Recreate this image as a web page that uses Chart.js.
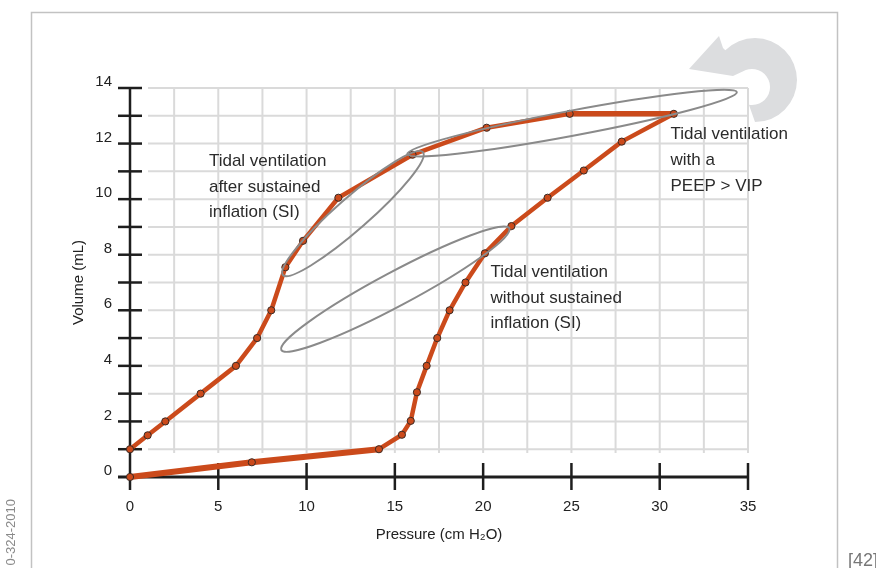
<!DOCTYPE html>
<html>
<head>
<meta charset="utf-8">
<script src="https://cdn.jsdelivr.net/npm/chart.js@4.4.1/dist/chart.umd.min.js"></script>
<style>
  html, body { margin: 0; padding: 0; background: #fff; }
  #wrap { width: 876px; height: 568px; }
</style>
</head>
<body>
<div id="wrap"><canvas id="pv_loop" width="876" height="568"></canvas></div>
<script>
// one closed P-V loop: up the right limb from 0, across the top, back down the left limb
const pressure = [0, 6.9, 14.1, 15.4, 15.9, 16.25, 16.8, 17.4, 18.1, 19.0, 20.1, 21.6, 23.65, 25.7, 27.85, 30.8,
                  24.9, 20.2, 16.0, 11.8, 9.8, 8.8, 8.0, 7.2, 6.0, 4.0, 2.0, 1.0, 0];
const volume = [0, 0.53, 1.0, 1.52, 2.02, 3.05, 4.0, 5.0, 6.0, 7.0, 8.05, 9.03, 10.05, 11.03, 12.07, 13.07,
                13.07, 12.57, 11.6, 10.05, 8.5, 7.55, 6.0, 5.0, 4.0, 3.0, 2.0, 1.5, 1.0];
const pressureTicks = [0, 5, 10, 15, 20, 25, 30, 35];
const volumeTicks = [0, 2, 4, 6, 8, 10, 12, 14];

// ellipses round the three zones (tips in chart units)
const ellipseTips = [
  [[15.7, 11.62], [34.37, 13.85]],
  [[8.66, 7.27], [16.59, 11.69]],
  [[8.57, 4.57], [21.48, 8.95]]
];
const ellipseHalfWidth = [12.5, 16, 17];

const noteLines = [
  ['Tidal ventilation', 'after sustained', 'inflation (SI)'],
  ['Tidal ventilation', 'without sustained', 'inflation (SI)'],
  ['Tidal ventilation', 'with a', 'PEEP > VIP']
];
const noteAnchors = [[4.47, 11.19], [20.42, 7.2], [30.61, 12.16]];

const FONT = '"Liberation Sans", Arial, sans-serif';
const ORANGE = '#cb4a1b';
const GRID = '#dadada';
const INK = '#1e1e1e';
const deg = d => d * Math.PI / 180;

const decor = {
  id: 'decor',
  beforeDraw(chart) {
    const ctx = chart.ctx;
    ctx.save();
    ctx.fillStyle = '#fff';
    ctx.fillRect(0, 0, chart.width, chart.height);
    // frame
    ctx.strokeStyle = '#c2c2c2';
    ctx.lineWidth = 1.5;
    ctx.strokeRect(31.5, 12.5, 806, 600);
    // turn-round arrow, head + crescent body
    ctx.fillStyle = '#dcdddf';
    ctx.beginPath();
    ctx.moveTo(689, 69);
    ctx.lineTo(719, 36);
    ctx.lineTo(723, 48);
    ctx.arc(755, 80, 42, deg(-135), deg(90), false);
    ctx.lineTo(749, 105);
    ctx.arc(752, 87, 18, deg(100), deg(-110), true);
    ctx.lineTo(733, 76);
    ctx.closePath();
    ctx.fill();
    // side marks
    ctx.fillStyle = '#8a8a8a';
    ctx.font = '13px ' + FONT;
    ctx.textBaseline = 'middle';
    ctx.textAlign = 'right';
    ctx.translate(11, 499);
    ctx.rotate(-Math.PI / 2);
    ctx.fillText('0-324-2010', 0, 0);
    ctx.setTransform(1, 0, 0, 1, 0, 0);
    ctx.fillStyle = '#777';
    ctx.font = '18px ' + FONT;
    ctx.textAlign = 'left';
    ctx.textBaseline = 'alphabetic';
    ctx.fillText('[42]', 848, 566);
    ctx.restore();
  },
  beforeDatasetsDraw(chart) {
    const { ctx, scales: { x, y } } = chart;
    ctx.save();
    ctx.strokeStyle = GRID;
    ctx.lineWidth = 2;
    for (let v = 1; v <= 14; v++) {
      const py = y.getPixelForValue(v);
      ctx.beginPath();
      ctx.moveTo(x.left + 18, py);
      ctx.lineTo(x.right, py);
      ctx.stroke();
    }
    for (let v = 2.5; v <= 35; v += 2.5) {
      const px = x.getPixelForValue(v);
      ctx.beginPath();
      ctx.moveTo(px, y.top);
      ctx.lineTo(px, y.bottom - 24);
      ctx.stroke();
    }
    // axes with crossing ticks
    ctx.strokeStyle = INK;
    ctx.lineWidth = 2.5;
    const x0 = x.getPixelForValue(0), y0 = y.getPixelForValue(0);
    ctx.beginPath();
    ctx.moveTo(x0, y.top);
    ctx.lineTo(x0, y0 + 13);
    ctx.stroke();
    for (let v = 1; v <= 14; v++) {
      const py = y.getPixelForValue(v);
      ctx.beginPath();
      ctx.moveTo(x0 - 12, py);
      ctx.lineTo(x0 + 12, py);
      ctx.stroke();
    }
    for (const v of pressureTicks.slice(1)) {
      const px = x.getPixelForValue(v);
      ctx.beginPath();
      ctx.moveTo(px, y0 - 14);
      ctx.lineTo(px, y0 + 13);
      ctx.stroke();
    }
    ctx.lineWidth = 3;
    ctx.beginPath();
    ctx.moveTo(x0 - 12, y0);
    ctx.lineTo(x.right, y0);
    ctx.stroke();
    ctx.restore();
  },
  afterDatasetsDraw(chart) {
    const { ctx, scales: { x, y } } = chart;
    ctx.save();
    ctx.strokeStyle = '#8a8a8a';
    ctx.lineWidth = 2;
    ellipseTips.forEach((tips, i) => {
      const ax = x.getPixelForValue(tips[0][0]), ay = y.getPixelForValue(tips[0][1]);
      const bx = x.getPixelForValue(tips[1][0]), by = y.getPixelForValue(tips[1][1]);
      const half = Math.hypot(bx - ax, by - ay) / 2;
      ctx.beginPath();
      ctx.ellipse((ax + bx) / 2, (ay + by) / 2, half, ellipseHalfWidth[i], Math.atan2(by - ay, bx - ax), 0, Math.PI * 2);
      ctx.stroke();
    });
    ctx.fillStyle = '#2b2b2b';
    ctx.font = '17px ' + FONT;
    ctx.textAlign = 'left';
    ctx.textBaseline = 'alphabetic';
    noteLines.forEach((lines, i) => {
      const px = x.getPixelForValue(noteAnchors[i][0]);
      const py = y.getPixelForValue(noteAnchors[i][1]);
      lines.forEach((t, k) => ctx.fillText(t, px, py + k * 25.7));
    });
    ctx.restore();
  }
};

const config = {
  type: 'scatter',
  data: {
    datasets: [{
      data: pressure.map((p, i) => ({ x: p, y: volume[i] })),
      showLine: true,
      borderColor: ORANGE,
      borderWidth: 4.5,
      borderJoinStyle: 'round',
      segment: {
        borderWidth: c => (c.p0DataIndex < 2 ? 6 : c.p0DataIndex === 15 ? 5.5 : 4.5)
      },
      pointRadius: 3.6,
      pointBorderWidth: 1,
      pointBorderColor: '#3b2b25',
      pointBackgroundColor: ORANGE,
      clip: false
    }]
  },
  options: {
    responsive: false,
    animation: false,
    devicePixelRatio: 1,
    layout: { padding: { top: 88, right: 128, left: 0, bottom: 0 } },
    plugins: { legend: { display: false }, tooltip: { enabled: false } },
    scales: {
      x: {
        type: 'linear', min: 0, max: 35,
        afterBuildTicks: s => { s.ticks = pressureTicks.map(v => ({ value: v })); },
        afterFit: s => { s.height = 91; },
        grid: { display: false, drawTicks: false },
        border: { display: false },
        ticks: { padding: 21, color: '#222', font: { family: FONT, size: 15 } },
        title: {
          display: true, text: 'Pressure (cm H\u2082O)', color: '#222',
          font: { family: FONT, size: 15 }, padding: { top: 0, bottom: 24 }
        }
      },
      y: {
        type: 'linear', min: 0, max: 14,
        afterBuildTicks: s => { s.ticks = volumeTicks.map(v => ({ value: v })); },
        afterFit: s => { s.width = 130; },
        grid: { display: false, drawTicks: false },
        border: { display: false },
        ticks: { padding: 18, labelOffset: -6, color: '#222', font: { family: FONT, size: 15 } },
        title: {
          display: true, text: 'Volume (mL)', color: '#222',
          font: { family: FONT, size: 15 }, padding: { top: 70, bottom: 0 }
        }
      }
    }
  },
  plugins: [decor]
};

new Chart(document.getElementById('pv_loop'), config);
</script>
</body>
</html>
